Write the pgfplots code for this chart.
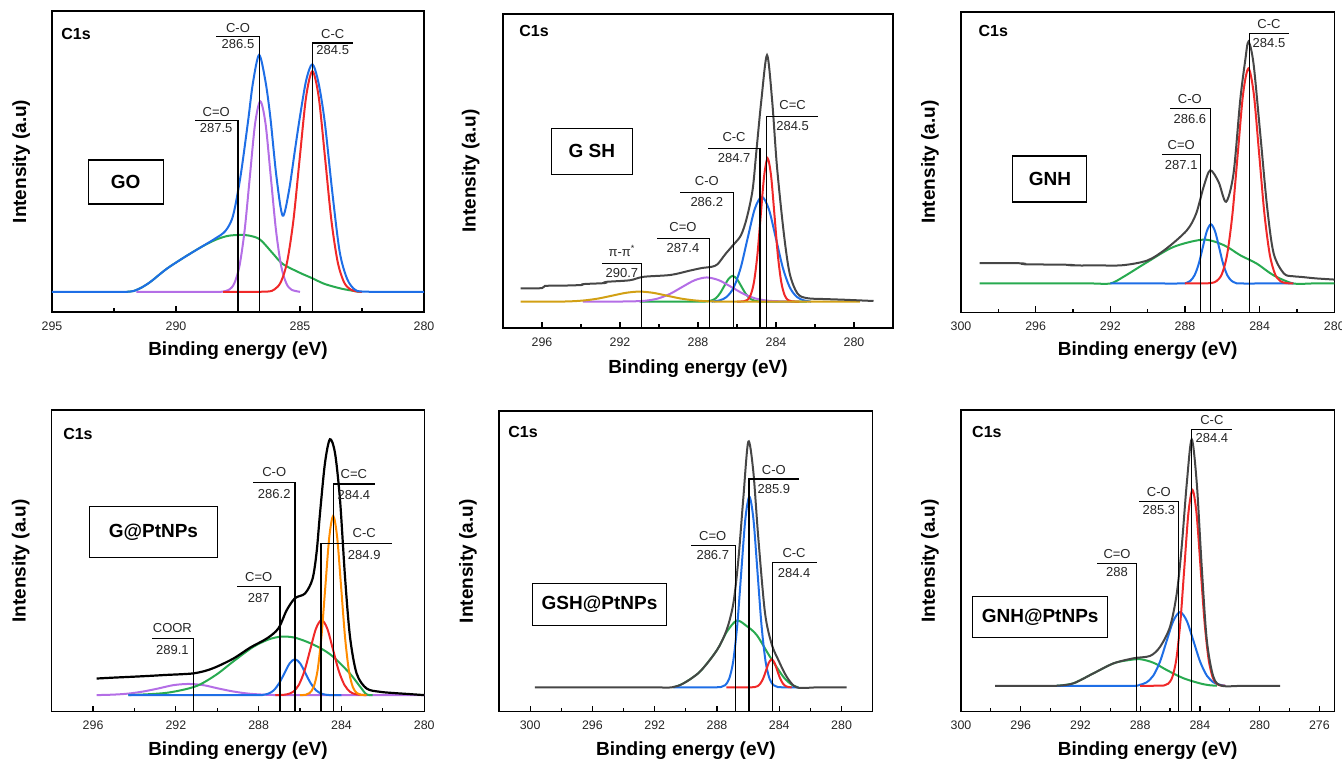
\documentclass[border=0pt]{standalone}
\usepackage{fontspec}
\setmainfont{Liberation Sans}
\usepackage{pgfplots}
\pgfplotsset{compat=1.18}
\definecolor{cblue}{RGB}{30,110,230}
\definecolor{cred}{RGB}{240,40,40}
\definecolor{cpurple}{RGB}{180,110,230}
\definecolor{cgreen}{RGB}{40,170,80}
\definecolor{cgray}{RGB}{70,70,70}
\definecolor{cgold}{RGB}{210,160,20}
\definecolor{corange}{RGB}{255,140,0}
\newcommand{\plabfont}{\fontsize{6.5}{7}\selectfont}
% #1 x of vertical line, #2 other end of horizontal line, #3 height, #4 text x, #5 name, #6 value, #7 gap above, #8 gap below
\newcommand{\plab}[8]{%
  \draw[line width=0.6pt, black] (axis cs:#1,0) -- (axis cs:#1,#3) -- (axis cs:#2,#3);
  \node[anchor=south, inner sep=0pt, yshift=#7, font=\plabfont, text=black!85] at (axis cs:#4,#3) {#5};
  \node[anchor=north, inner sep=0pt, yshift=-#8, font=\plabfont, text=black!85] at (axis cs:#4,#3) {#6};
}
\tikzset{
  c1s/.style={anchor=north west, inner sep=0pt, font=\bfseries\fontsize{8}{9}\selectfont},
  sbox/.style={draw, line width=0.6pt, inner sep=0pt, font=\bfseries\fontsize{9.5}{10}\selectfont},
}
\pgfplotsset{
  xps/.style={
    scale only axis, anchor=south west, x dir=reverse,
    ymin=0, ymax=100, ytick=\empty, clip=false,
    axis line style={line width=0.75pt},
    tick align=inside, xtick pos=left,
    major tick length=3pt, minor tick length=1.8pt,
    every tick/.style={black, line width=0.6pt},
    tick label style={font=\fontsize{6.2}{7}\selectfont, text=black!85},
    xticklabel shift=1.2pt,
    /pgf/number format/assume math mode=true,
    xticklabel style={/pgf/number format/fixed, /pgf/number format/1000 sep={}},
    xlabel={Binding energy (eV)}, ylabel={Intensity (a.u)},
    label style={font=\bfseries\fontsize{9.5}{11}\selectfont},
    xlabel style={at={(axis description cs:0.5,-0.128)}, anchor=center},
    ylabel style={at={(axis description cs:-0.083,0.5)}, anchor=center},
    every axis plot/.append style={line width=1pt, no markers, smooth, tension=0.5},
  },
}
\begin{document}
\begin{tikzpicture}
\path[use as bounding box] (0,0) rectangle (671pt,380.5pt);

% ---------------- GO ----------------
\begin{axis}[xps, at={(26pt,224.5pt)}, width=186pt, height=150.5pt,
  xmin=280, xmax=295, xtick={280,285,290,295}, minor xtick={282.5,287.5,292.5}]
\addplot[cgreen] coordinates {(292.0,6.7) (291.7,7.0) (291.35,8.3) (291.0,10.2) (290.4,14.2) (289.7,18) (289.0,21.5) (288.4,24) (287.9,25.3) (287.4,25.6) (287.0,25.3) (286.6,24) (286.1,19.5) (285.7,16) (285.0,13) (284.5,11.2) (284.0,9.3) (283.3,7.7) (282.6,6.7)};
\addplot[cpurple] coordinates {(291.6,6.7) (290.0,6.7) (288.9,6.7) (288.2,6.7) (287.86,7.4) (287.65,9.5) (287.44,15.3) (287.23,27.3) (287.02,45.1) (286.81,62.6) (286.6,70.0) (286.39,62.6) (286.18,45.1) (285.97,27.3) (285.76,15.3) (285.55,9.5) (285.34,7.4) (285.0,6.7)};
\addplot[cred] coordinates {(288.1,6.7) (287.2,6.7) (286.3,6.8) (286.03,7.5) (285.775,9.9) (285.52,16.6) (285.265,30.5) (285.01,51.2) (284.755,71.4) (284.5,80.0) (284.245,71.4) (283.99,51.2) (283.735,30.5) (283.48,16.6) (283.225,9.9) (282.97,7.5) (282.7,6.8) (282.5,6.7)};
\addplot[cblue] coordinates {(295,6.7) (293.5,6.7) (292.4,6.7) (292.0,6.7) (291.7,7.0) (291.35,8.3) (291.0,10.2) (290.4,14.2) (289.7,18) (289.0,21.5) (288.4,24.5) (288.0,27) (287.7,32) (287.4,45) (287.1,63) (286.9,76) (286.65,85.4) (286.4,77) (286.2,65) (285.95,45) (285.7,32) (285.45,40) (285.2,54) (285.0,65) (284.75,77) (284.5,82.3) (284.25,76) (284.0,63) (283.7,40) (283.4,20) (283.1,11) (282.8,7.5) (282.5,6.8) (281.5,6.7) (280,6.7)};
\plab{287.5}{289.25}{63.5}{288.38}{C=O}{287.5}{1.7pt}{1.2pt}
\plab{286.63}{288.4}{91.4}{287.5}{C-O}{286.5}{1.7pt}{1.2pt}
\plab{284.5}{282.85}{89.4}{283.68}{C-C}{284.5}{1.7pt}{1.2pt}
\node[c1s] at (rel axis cs:0.024,0.943) {C1s};
\node[sbox, minimum width=37.5pt, minimum height=22pt] at (rel axis cs:0.198,0.432) {GO};
\end{axis}

% ---------------- GSH ----------------
\begin{axis}[xps, at={(251.5pt,216.5pt)}, width=195pt, height=157pt,
  xmin=278, xmax=298, xtick={280,284,288,292,296}, minor xtick={282,286,290,294}]
\addplot[cgreen] coordinates {(291.0,8.4) (289.8,8.4) (288.6,8.4) (287.8,8.4) (287.51,8.5) (287.295,8.8) (287.08,9.5) (286.865,11.1) (286.65,13.4) (286.435,15.6) (286.22,16.6) (286.005,15.6) (285.79,13.4) (285.575,11.1) (285.36,9.5) (285.145,8.8) (284.93,8.5) (284.6,8.4) (283.5,8.4) (282.4,8.4)};
\addplot[cpurple] coordinates {(293.9,8.4) (292.5,8.4) (291.3,8.5) (290.675,8.7) (290.05,9.4) (289.425,10.9) (288.8,13.1) (288.175,15.2) (287.55,16.1) (286.925,15.2) (286.3,13.1) (285.675,10.9) (285.05,9.4) (284.425,8.7) (283.8,8.5) (283.2,8.4)};
\addplot[cblue] coordinates {(287.3,8.4) (286.89,8.8) (286.53,9.9) (286.17,12.9) (285.81,19.2) (285.45,28.7) (285.09,37.9) (284.73,41.8) (284.37,37.9) (284.01,28.7) (283.65,19.2) (283.29,12.9) (282.93,9.9) (282.57,8.8) (282.2,8.4)};
\addplot[cred] coordinates {(286.0,8.4) (285.655,8.5) (285.48,8.9) (285.305,10.4) (285.13,14.6) (284.955,23.2) (284.78,36.1) (284.605,48.6) (284.43,54.0) (284.255,48.6) (284.08,36.1) (283.905,23.2) (283.73,14.6) (283.555,10.4) (283.38,8.9) (283.205,8.5) (282.8,8.4)};
\addplot[cgold] coordinates {(297.1,8.4) (296.0,8.4) (295.2,8.4) (294.5,8.5) (293.8,8.8) (293.1,9.4) (292.4,10.3) (291.7,11.2) (291.0,11.6) (290.3,11.2) (289.6,10.3) (288.9,9.4) (288.2,8.8) (287.5,8.5) (286.8,8.4) (286.0,8.4) (284.0,8.4) (282.0,8.4) (279.7,8.4)};
\addplot[cgray] coordinates {(297.1,12.6) (296.0,12.7) (295.85,13.4) (294.9,13.5) (293.95,13.7) (293.85,14.0) (292.8,14.3) (292.7,14.7) (291.5,15.2) (290.8,16.3) (289.4,16.9) (288.4,18.3) (287.8,19.1) (287.3,19.5) (287.0,20.3) (286.6,23.5) (286.2,26.4) (285.8,29.5) (285.5,35) (285.2,44) (285.0,56.7) (284.75,72.6) (284.46,86.9) (284.2,72.6) (283.95,51.4) (283.6,30.2) (283.3,17.4) (282.9,11) (282.4,9.5) (281.4,9.2) (280.5,9.0) (279.0,8.6)};
\plab{290.9}{292.9}{20.6}{291.9}{π-π\textsuperscript{*}}{290.7}{3.3pt}{2.3pt}
\plab{287.42}{290.12}{28.6}{288.77}{C=O}{287.4}{3.3pt}{2.3pt}
\plab{286.19}{288.92}{43.2}{287.55}{C-O}{286.2}{3.3pt}{2.3pt}
\plab{284.82}{287.47}{57.2}{286.15}{C-C}{284.7}{3.3pt}{2.3pt}
\plab{284.48}{281.83}{67.3}{283.15}{C=C}{284.5}{3.3pt}{2.3pt}
\node[c1s] at (rel axis cs:0.041,0.965) {C1s};
\node[sbox, minimum width=40.5pt, minimum height=23pt] at (rel axis cs:0.228,0.563) {G SH};
\end{axis}

% ---------------- GNH ----------------
\begin{axis}[xps, at={(480.5pt,224.35pt)}, width=186.65pt, height=150.15pt,
  xmin=280, xmax=300, xtick={280,284,288,292,296,300}, minor xtick={282,286,290,294,298}]
\addplot[cgreen] coordinates {(299.0,9.6) (297.0,9.6) (295.0,9.6) (293.0,9.6) (292.0,9.6) (291.3,11.8) (290.0,16.8) (288.6,21.8) (287.0,24.2) (285.9,22.3) (285.04,19.0) (284.15,16.2) (283.25,12.3) (282.2,9.6) (281.2,9.6) (280.0,9.6)};
\addplot[cblue] coordinates {(292.0,9.6) (290.0,9.6) (288.2,9.6) (287.93,9.8) (287.71,10.5) (287.49,12.3) (287.27,16.0) (287.05,21.55) (286.83,27.0) (286.61,29.3) (286.39,27.0) (286.17,21.55) (285.95,16.0) (285.73,12.3) (285.51,10.5) (285.29,9.8) (285.05,9.6) (283.5,9.6) (282.2,9.6)};
\addplot[cred] coordinates {(288.0,9.6) (287.2,9.6) (286.6,9.75) (286.31,10.4) (286.025,12.7) (285.74,19.3) (285.455,32.85) (285.17,53.0) (284.885,72.8) (284.6,81.2) (284.315,72.8) (284.03,53.0) (283.745,32.85) (283.46,19.3) (283.175,12.7) (282.89,10.4) (282.6,9.75) (282.2,9.6)};
\addplot[cgray] coordinates {(299.0,16.4) (297.8,16.4) (296.7,16.3) (296.6,16.0) (295.3,15.9) (294.1,15.8) (294.0,15.6) (292.6,15.6) (291.3,15.7) (290.0,17.3) (289.0,21.2) (287.9,27.3) (287.4,32.9) (287.0,41.8) (286.65,47.3) (286.2,43.4) (285.8,36.8) (285.4,46.2) (285.04,70.7) (284.77,84) (284.6,90.1) (284.33,82.9) (283.97,59.6) (283.6,35.1) (283.25,19.6) (282.7,12.9) (282.2,12.0) (281.8,11.8) (281.0,11.3) (280.0,10.9)};
\plab{284.54}{282.45}{92.9}{283.5}{C-C}{284.5}{2.3pt}{2.6pt}
\plab{286.65}{288.83}{67.9}{287.74}{C-O}{286.6}{2.3pt}{2.6pt}
\plab{287.15}{289.24}{52.6}{288.2}{C=O}{287.1}{2.3pt}{2.6pt}
\node[c1s] at (rel axis cs:0.046,0.956) {C1s};
\node[sbox, minimum width=37pt, minimum height=23pt] at (rel axis cs:0.238,0.444) {GNH};
\end{axis}

% ---------------- G@PtNPs ----------------
\begin{axis}[xps, at={(25.85pt,24.65pt)}, width=186.3pt, height=150.85pt,
  xmin=280, xmax=298, xtick={280,284,288,292,296}, minor xtick={282,286,290,294}]
\addplot[cpurple] coordinates {(295.83,5.5) (295.03,5.66) (294.3,6.0) (293.575,6.7) (292.85,7.7) (292.125,8.8) (291.4,9.2) (290.675,8.8) (289.95,7.7) (289.225,6.7) (288.5,6.0) (287.775,5.66) (287.0,5.5) (285.5,5.5) (284.0,5.5) (282.5,5.5) (281,5.5) (280.0,5.5)};
\addplot[cgreen] coordinates {(294.3,5.5) (293.3,5.8) (292.4,6.3) (291.5,7.5) (290.84,9.0) (290.0,12.5) (289.2,16.8) (288.26,21.5) (287.5,24.0) (286.89,24.9) (286.3,24.6) (285.68,23.2) (285.0,21) (284.4,18.2) (283.6,12.7) (283.1,8.3) (282.8,5.8) (282.5,5.5)};
\addplot[cblue] coordinates {(294.3,5.5) (292.0,5.5) (290.0,5.5) (288.05,5.5) (287.78,5.6) (287.525,6.0) (287.27,7.1) (287.015,9.4) (286.76,12.7) (286.505,16.0) (286.25,17.4) (285.995,16.0) (285.74,12.7) (285.485,9.4) (285.23,7.1) (284.975,6.0) (284.72,5.6) (284.45,5.5) (284.0,5.5)};
\addplot[cred] coordinates {(287.2,5.5) (286.885,5.55) (286.61,5.8) (286.335,6.6) (286.06,8.9) (285.785,13.6) (285.51,20.6) (285.235,27.5) (284.96,30.4) (284.685,27.5) (284.41,20.6) (284.135,13.6) (283.86,8.9) (283.585,6.6) (283.31,5.8) (282.8,5.5)};
\addplot[corange] coordinates {(286.0,5.5) (285.73,5.6) (285.54,6.2) (285.35,8.1) (285.16,13.5) (284.97,24.8) (284.78,41.5) (284.59,57.9) (284.4,64.9) (284.21,57.9) (284.02,41.5) (283.83,24.8) (283.64,13.5) (283.45,8.1) (283.26,6.2) (283.07,5.6) (282.8,5.5)};
\addplot[black, line width=1.1pt] coordinates {(295.83,11.0) (295.0,11.3) (294.06,11.6) (293.2,11.9) (292.44,12.2) (291.8,12.4) (291.16,12.7) (290.6,13.5) (290.03,14.9) (289.2,17.7) (288.4,21.3) (287.6,24.3) (287.05,27.6) (286.65,33.6) (286.25,37.6) (285.76,39.2) (285.4,44.0) (285.2,53) (285.04,65.6) (284.8,82.3) (284.56,90.3) (284.31,85.6) (284.07,70.1) (283.83,44.7) (283.59,24.9) (283.27,12.7) (282.79,7.7) (282.14,6.6) (281.5,6.2) (280.85,5.9) (280.0,5.5)};
\plab{291.16}{293.17}{24.3}{292.17}{COOR}{289.1}{2.6pt}{3.3pt}
\plab{286.97}{289.06}{41.4}{288.0}{C=O}{287}{2.6pt}{3.3pt}
\plab{286.25}{288.26}{75.9}{287.25}{C-O}{286.2}{2.6pt}{3.3pt}
\plab{284.4}{282.38}{75.5}{283.4}{C=C}{284.4}{2.6pt}{3.3pt}
\plab{284.99}{281.58}{55.8}{282.9}{C-C}{284.9}{2.6pt}{3.3pt}
\node[c1s] at (rel axis cs:0.030,0.940) {C1s};
\node[sbox, minimum width=64pt, minimum height=25.3pt] at (rel axis cs:0.273,0.596) {G@PtNPs};
\end{axis}

% ---------------- GSH@PtNPs ----------------
\begin{axis}[xps, at={(249.5pt,24.65pt)}, width=186.85pt, height=150.35pt,
  xmin=278, xmax=302, xtick={280,284,288,292,296,300}, minor xtick={282,286,290,294,298}]
\addplot[cgreen] coordinates {(290.8,8.1) (290.16,9.4) (289.1,13.3) (288.0,20.5) (287.38,26.5) (286.73,30.3) (286.1,28.5) (285.45,25.5) (284.6,18.3) (283.74,11.6) (283.2,9.0) (282.78,8.1)};
\addplot[cblue] coordinates {(290.8,8.1) (289.5,8.1) (288.5,8.1) (287.75,8.2) (287.48,8.8) (287.22,10.9) (286.96,16.7) (286.7,28.7) (286.44,46.55) (286.18,64.05) (285.92,71.5) (285.66,64.05) (285.4,46.55) (285.14,28.7) (284.88,16.7) (284.62,10.9) (284.36,8.8) (284.1,8.2) (283.4,8.1) (282.78,8.1)};
\addplot[cred] coordinates {(287.4,8.1) (286.6,8.1) (285.8,8.1) (285.57,8.2) (285.39,8.5) (285.21,9.4) (285.03,11.1) (284.85,13.7) (284.67,16.3) (284.49,17.4) (284.31,16.3) (284.13,13.7) (283.95,11.1) (283.77,9.4) (283.59,8.5) (283.41,8.2) (283.2,8.1)};
\addplot[cgray] coordinates {(299.7,8.1) (297,8.1) (294,8.1) (292,8.1) (290.9,8.1) (290.16,9.4) (289.1,13.3) (288.0,20.5) (287.38,27.2) (286.95,36.0) (286.63,50.4) (286.31,71) (285.99,89.8) (285.67,80) (285.35,58) (284.92,33) (284.49,22.5) (284.06,17.2) (283.52,11.6) (282.88,8.1) (281.5,8.1) (279.67,8.1)};
\plab{285.94}{282.73}{77.4}{284.35}{C-O}{285.9}{2.2pt}{2.4pt}
\plab{286.8}{289.69}{55.4}{288.27}{C=O}{286.7}{2.2pt}{2.4pt}
\plab{284.44}{281.56}{49.5}{283.05}{C-C}{284.4}{2.2pt}{2.4pt}
\node[c1s] at (rel axis cs:0.024,0.950) {C1s};
\node[sbox, minimum width=67pt, minimum height=21pt] at (rel axis cs:0.269,0.357) {GSH@PtNPs};
\end{axis}

% ---------------- GNH@PtNPs ----------------
\begin{axis}[xps, at={(480.5pt,24.65pt)}, width=186.65pt, height=150.85pt,
  xmin=275, xmax=300, xtick={276,280,284,288,292,296,300}, minor xtick={278,282,286,290,294,298}]
\addplot[cgreen] coordinates {(293.59,8.6) (292.48,9.4) (291.14,12.7) (289.8,16.0) (288.9,17.0) (288.0,17.4) (287.1,16.2) (286.22,13.8) (285.11,11.1) (284.0,9.4) (283.4,8.8) (282.87,8.6)};
\addplot[cblue] coordinates {(293.59,8.6) (291.5,8.6) (289.5,8.6) (288.3,8.6) (288.03,8.9) (287.58,9.7) (287.13,11.9) (286.68,16.5) (286.23,23.4) (285.78,30.1) (285.33,33.0) (284.88,30.1) (284.43,23.4) (283.98,16.5) (283.53,11.9) (283.08,9.7) (282.63,8.9) (282.3,8.6)};
\addplot[cred] coordinates {(288.0,8.6) (287.2,8.6) (286.39,8.7) (286.12,9.3) (285.85,11.45) (285.58,17.4) (285.31,29.7) (285.04,48.0) (284.77,65.9) (284.5,73.5) (284.23,65.9) (283.96,48.0) (283.69,29.7) (283.42,17.4) (283.15,11.45) (282.88,9.3) (282.61,8.7) (282.3,8.6)};
\addplot[cgray] coordinates {(297.72,8.6) (296,8.6) (295,8.6) (293.59,8.6) (292.48,9.4) (291.14,12.7) (289.8,16.0) (288.46,17.7) (287.34,18.5) (286.67,21.5) (286.0,28.2) (285.55,39.2) (285.22,54.7) (284.88,75.7) (284.55,90.3) (284.21,75.7) (283.88,48.1) (283.54,23.8) (283.1,11.6) (282.54,8.6) (281,8.6) (278.63,8.6)};
\plab{284.55}{281.87}{93.6}{283.2}{C-C}{284.4}{2.2pt}{1.8pt}
\plab{285.44}{288.06}{69.6}{286.75}{C-O}{285.3}{2.2pt}{1.8pt}
\plab{288.23}{290.87}{49.1}{289.55}{C=O}{288}{2.2pt}{1.8pt}
\node[c1s] at (rel axis cs:0.029,0.947) {C1s};
\node[sbox, minimum width=67.3pt, minimum height=20.3pt] at (rel axis cs:0.212,0.314) {GNH@PtNPs};
\end{axis}
\end{tikzpicture}
\end{document}
